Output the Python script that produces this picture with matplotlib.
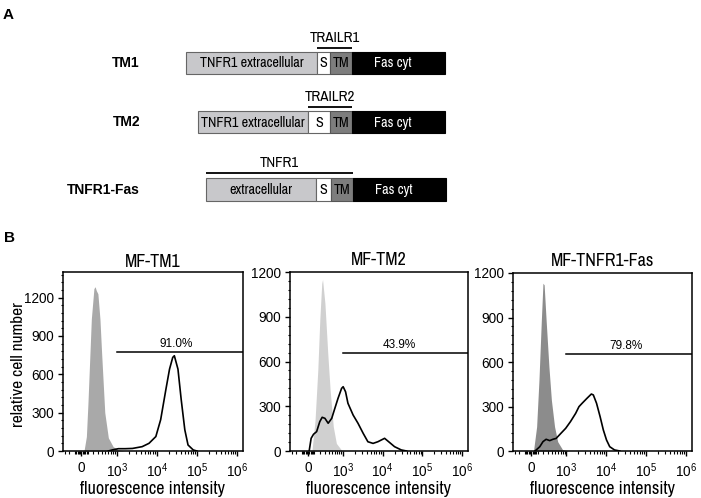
import numpy as np
import matplotlib
matplotlib.use("Agg")
import matplotlib.pyplot as plt
from matplotlib import font_manager

# ---------------- data ----------------
# Panel A: constructs and their domains (lengths in drawing units)
constructs = ["TM1", "TM2", "TNFR1-Fas"]
domain_names = [["TNFR1 extracellular", "S", "TM", "Fas cyt"],
                ["TNFR1 extracellular", "S", "TM", "Fas cyt"],
                ["extracellular", "S", "TM", "Fas cyt"]]
domain_lengths = [[131, 13, 22, 93],
                  [110, 22, 22, 93],
                  [110, 15, 22, 93]]
bracket_labels = ["TRAILR1", "TRAILR2", "TNFR1"]
bracket_domains = [[1, 2], [1, 2], [0, 1, 2]]

# Panel B: flow cytometry histograms
panel_titles = ["MF-TM1", "MF-TM2", "MF-TNFR1-Fas"]
gate_percent = ["91.0%", "43.9%", "79.8%"]
gate_level = [771, 655, 655]
gate_start = 1000
y_max = [1400, 1200, 1200]
y_ticks = [0, 300, 600, 900, 1200]
x_ticks = [0, 1e3, 1e4, 1e5, 1e6]
x_ticklabels = ["0", r"$\mathregular{10^{3}}$", r"$\mathregular{10^{4}}$",
                r"$\mathregular{10^{5}}$", r"$\mathregular{10^{6}}$"]

tm1_ctrl_x = [40, 78, 104, 162, 210, 234, 259, 294, 343, 386, 479, 602, 808, 1100, 1570]
tm1_ctrl_y = [0, 113, 380, 1034, 1270, 1285, 1255, 1230, 1034, 771, 300, 103, 34, 10, 0]
tm1_x = [600, 808, 1100, 1644, 2500, 4365, 6457, 9550, 12589, 16982, 20893, 25119,
         27542, 33884, 40738, 50119, 60256, 81283, 100000]
tm1_y = [0, 10, 18, 18, 20, 34, 60, 113, 245, 482, 640, 732, 745, 640, 403, 166, 47, 8, 0]

tm2_ctrl_x = [59, 110, 158, 195, 234, 251, 304, 375, 442, 545, 663, 913, 1250]
tm2_ctrl_y = [0, 208, 543, 878, 1124, 1150, 990, 655, 409, 163, 51, 5, 0]
tm2_x = [15, 46, 84, 137, 195, 243, 304, 386, 492, 602, 734, 913, 1003, 1157, 1332,
         1806, 2399, 3236, 4266, 5754, 7586, 11220, 15136, 19953, 29512, 40000]
tm2_y = [0, 85, 112, 130, 197, 226, 219, 186, 219, 286, 353, 420, 431, 397, 320,
         241, 186, 119, 62, 51, 62, 85, 56, 29, 7, 0]

fas_ctrl_x = [34, 84, 123, 165, 195, 218, 259, 323, 386, 479, 587, 788, 1100]
fas_ctrl_y = [0, 164, 479, 883, 1131, 1120, 883, 568, 344, 164, 63, 10, 0]
fas_x = [59, 137, 195, 259, 343, 430, 532, 716, 958, 1271, 1723, 2089, 2512, 3311,
         4266, 4786, 5754, 7079, 8511, 10233, 12303, 16218, 22000]
fas_y = [0, 29, 63, 79, 70, 79, 85, 119, 153, 198, 254, 299, 322, 355, 384, 378,
         322, 231, 142, 74, 29, 7, 0]

ctrl_xs = [tm1_ctrl_x, tm2_ctrl_x, fas_ctrl_x]
ctrl_ys = [tm1_ctrl_y, tm2_ctrl_y, fas_ctrl_y]
sample_xs = [tm1_x, tm2_x, fas_x]
sample_ys = [tm1_y, tm2_y, fas_y]

# ---------------- style ----------------
names = {f.name for f in font_manager.fontManager.ttflist}
prefs = ["Liberation Sans Narrow", "Arial Narrow", "Archivo Narrow", "PT Sans Narrow",
         "Roboto Condensed", "Pragati Narrow", "IBM Plex Sans Condensed",
         "Fira Sans Condensed", "Open Sans Condensed", "Encode Sans Condensed"]
NARROW = next((p for p in prefs if p in names), None)
if NARROW is None:
    NARROW = next((n for n in sorted(names) if "Narrow" in n), "Liberation Sans")

plt.rcParams["font.family"] = ["Liberation Sans", "DejaVu Sans"]
plt.rcParams["mathtext.fontset"] = "custom"
plt.rcParams["mathtext.rm"] = "Liberation Sans"
plt.rcParams["mathtext.it"] = "Liberation Sans:italic"
plt.rcParams["mathtext.bf"] = "Liberation Sans:bold"
NF = [NARROW, "Liberation Sans", "DejaVu Sans"]

W, H = 701, 498
fig = plt.figure(figsize=(W / 100, H / 100), dpi=100)

# ---------------- panel A ----------------
axA = fig.add_axes([0, 1 - 220 / H, 1, 220 / H])
axA.set_xlim(0, W)
axA.set_ylim(220, 0)
axA.axis("off")

row_y = [62.9, 122.2, 189.7]
row_start = [186, 198, 206]
box_h = 22.4
dom_face = ["#c8c8cb", "white", "#7d7d7d", "black"]
dom_edge = ["#666666", "#666666", "#555555", "black"]
dom_text = ["black", "black", "black", "white"]
text_shift = [0, 0, 0, -6]
bracket_off = [15.2, 15.5, 17.0]

for i, name in enumerate(constructs):
    lefts = np.concatenate([[0], np.cumsum(domain_lengths[i])[:-1]]) + row_start[i]
    axA.barh([row_y[i]] * 4, domain_lengths[i], left=lefts, height=box_h,
             color=dom_face, edgecolor=dom_edge, linewidth=0.8)
    for j, lab in enumerate(domain_names[i]):
        axA.text(lefts[j] + domain_lengths[i][j] / 2 + text_shift[j], row_y[i] + 0.5, lab,
                 ha="center", va="center", color=dom_text[j], fontsize=10.2, family=NF)
    axA.text(140, row_y[i], name, ha="right", va="center", fontsize=10,
             fontweight="bold", family=["Liberation Sans", "DejaVu Sans"])
    d = bracket_domains[i]
    x0 = lefts[d[0]]
    x1 = lefts[d[-1]] + domain_lengths[i][d[-1]]
    yb = row_y[i] - bracket_off[i]
    axA.plot([x0, x1], [yb, yb], color="black", lw=1.3, solid_capstyle="butt")
    axA.text((x0 + x1) / 2, yb - 2.5, bracket_labels[i], ha="center", va="bottom",
             fontsize=10.8, family=NF)

fig.text(3 / W, 1 - 15 / H, "A", ha="left", va="center", fontsize=11, fontweight="bold")
fig.text(4 / W, 1 - 238.5 / H, "B", ha="left", va="center", fontsize=11, fontweight="bold")

# ---------------- panel B ----------------
Wl = 135.0


def fwd(x):
    return np.log10(Wl) + np.arcsinh(np.asarray(x, dtype=float) / (2 * Wl)) / np.log(10)


def inv(u):
    return 2 * Wl * np.sinh((np.asarray(u, dtype=float) - np.log10(Wl)) * np.log(10))


minor = [-300, -200, -100, -80, -60, -40, -20, 20, 40, 60, 80,
         100, 200, 300, 400, 500, 600, 700, 800, 900]
for dec in [1e3, 1e4, 1e5]:
    minor += [k * dec for k in range(2, 10)]

ax_boxes = [(63, 243, 272, 451), (290, 468, 272, 451), (513, 692, 273, 451)]
fill_cols = ["#a9a9a9", "#d0d0d0", "#8c8c8c"]
label_x = [30900, 26300, 31600]
title_pad = [3.5, 5, 5]

for k in range(3):
    x0, x1, y0, y1 = ax_boxes[k]
    ax = fig.add_axes([x0 / W, 1 - y1 / H, (x1 - x0) / W, (y1 - y0) / H])
    ax.set_xscale("function", functions=(fwd, inv))
    ax.set_xlim(-340, 1.4e6)
    ax.set_ylim(0, y_max[k])
    ax.fill_between(ctrl_xs[k], ctrl_ys[k], 0, color=fill_cols[k], lw=0, zorder=1)
    ax.plot(sample_xs[k], sample_ys[k], color="black", lw=1.2, zorder=3)
    ax.plot([gate_start, 1.4e6], [gate_level[k]] * 2, color="black", lw=1.1, zorder=3)
    ax.annotate(gate_percent[k], (label_x[k], gate_level[k]), xytext=(0, 1.5),
                textcoords="offset points", ha="center", va="bottom", fontsize=8.5)
    ax.set_xticks(x_ticks)
    ax.set_xticklabels(x_ticklabels)
    ax.set_xticks(minor, minor=True)
    ax.set_yticks(y_ticks)
    ax.set_yticks(np.arange(0, y_max[k] + 1, 60), minor=True)
    ax.tick_params(axis="both", which="major", direction="out", length=3.4, width=1.0,
                   labelsize=9.8, pad=3)
    ax.tick_params(axis="both", which="minor", direction="out", length=1.8, width=0.8)
    ax.tick_params(axis="x", which="major", pad=4)
    for s in ax.spines.values():
        s.set_linewidth(1.1)
    ax.set_title(panel_titles[k], fontsize=13, pad=title_pad[k], family=NF)
    ax.set_xlabel("fluorescence intensity", fontsize=13, labelpad=1, family=NF)
    if k == 0:
        ax.set_ylabel("relative cell number", fontsize=12.5, family=NF)
        ax.yaxis.set_label_coords(-0.205, 0.485)

fig.savefig("out.png", dpi=100)
